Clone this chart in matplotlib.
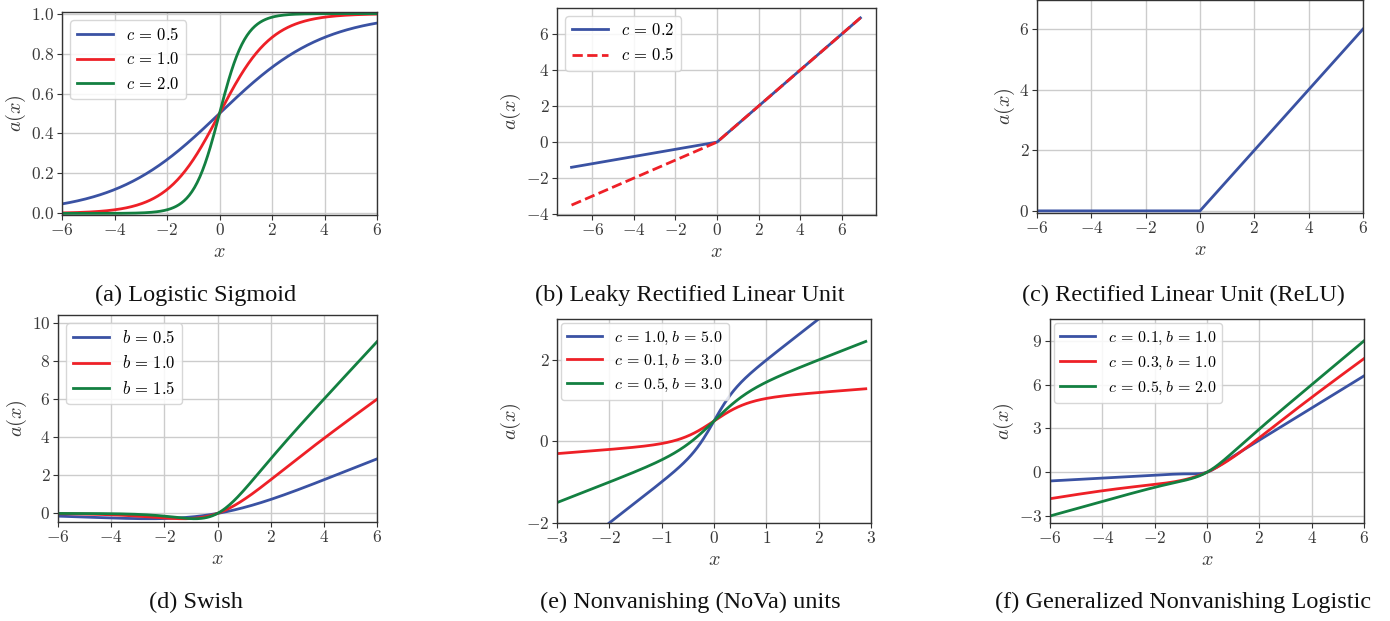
import numpy as np
import matplotlib
matplotlib.use("Agg")
import matplotlib.pyplot as plt
from matplotlib.ticker import FuncFormatter, MultipleLocator

# ---------------- data / parameters ----------------
sig_c = [0.5, 1.0, 2.0]                 # (a) logistic sigmoid slopes
leaky_c = [0.2, 0.5]                    # (b) leaky ReLU slopes
swish_b = [0.5, 1.0, 1.5]               # (d) swish
nova_c = [1.0, 0.1, 0.5]                # (e) NoVa
nova_b = [5.0, 3.0, 3.0]
gnl_c = [0.1, 0.3, 0.5]                 # (f) generalized nonvanishing logistic
gnl_b = [1.0, 1.0, 2.0]                 # as given in the legend
gnl_b_drawn = [4.0, 1.0, 2.0]           # steepness

captions = ["(a) Logistic Sigmoid", "(b) Leaky Rectified Linear Unit",
            "(c) Rectified Linear Unit (ReLU)", "(d) Swish",
            "(e) Nonvanishing (NoVa) units",
            "(f) Generalized Nonvanishing Logistic"]

colors = ["#3a52a3", "#ee2027", "#138041"]


def sigmoid(z):
    return 1.0 / (1.0 + np.exp(-z))


x6 = np.arange(-6, 6.001, 0.05)
x7 = np.arange(-7, 6.901, 0.1)
x3 = np.arange(-3, 2.901, 0.02)

# ---------------- style ----------------
plt.rcParams.update({
    "mathtext.fontset": "cm",
    "font.family": ["Liberation Serif", "DejaVu Serif"],
    "axes.edgecolor": "#333333",
    "axes.linewidth": 1.0,
    "xtick.color": "#333333",
    "ytick.color": "#333333",
    "xtick.labelcolor": "#3a3a3a",
    "ytick.labelcolor": "#3a3a3a",
    "xtick.major.size": 3.5,
    "ytick.major.size": 3.5,
    "grid.color": "#cccccc",
    "grid.linewidth": 1.0,
    "legend.edgecolor": "#d0d0d0",
})

W, H = 1390, 621
fig = plt.figure(figsize=(W / 100, H / 100), dpi=100)


def add_ax(x0, x1, y0, y1):
    return fig.add_axes([x0 / W, 1 - y1 / H, (x1 - x0) / W, (y1 - y0) / H])


def fmt1(v, p):
    return r"$%.1f$" % v


def fmt0(v, p):
    return r"$%d$" % round(v)


def style(ax, xstep, ystep, yfmt=fmt0):
    ax.xaxis.set_major_locator(MultipleLocator(xstep))
    ax.yaxis.set_major_locator(MultipleLocator(ystep))
    ax.xaxis.set_major_formatter(FuncFormatter(fmt0))
    ax.yaxis.set_major_formatter(FuncFormatter(yfmt))
    ax.tick_params(labelsize=12.5, pad=2)
    ax.grid(True)
    ax.set_axisbelow(True)
    ax.set_xlabel(r"$x$", fontsize=14.5, labelpad=3, color="#3a3a3a")
    ax.set_ylabel(r"$a(x)$", fontsize=14.5, labelpad=2, color="#3a3a3a")


def leg(ax, fs=12, sp=0.5, **kw):
    ax.legend(loc="upper left", fontsize=fs, handlelength=2.15,
              labelspacing=sp, fancybox=True, framealpha=0.85, **kw)


LW = 2.0
EQ = r"\,=\,"

# (a)
ax = add_ax(62, 377, 12, 215)
for c, col in zip(sig_c, colors):
    ax.plot(x6, sigmoid(c * x6), color=col, lw=LW,
            label=r"$c%s%.1f$" % (EQ, c))
ax.set_xlim(-6, 6)
ax.set_ylim(-0.008, 1.008)
style(ax, 2, 0.2, fmt1)
leg(ax)

# (b)
ax = add_ax(557, 876, 8, 215)
styles = ["-", "--"]
for c, col, ls in zip(leaky_c, colors, styles):
    ax.plot(x7, np.where(x7 > 0, x7, c * x7), color=col, lw=LW, ls=ls,
            label=r"$c%s%.1f$" % (EQ, c))
ax.set_xlim(-7.7, 7.65)
ax.set_ylim(-4.05, 7.45)
style(ax, 2, 2)
leg(ax)

# (c)
ax = add_ax(1037, 1363, 0, 213)
ax.plot(x6, np.maximum(x6, 0), color=colors[0], lw=LW)
ax.set_xlim(-6, 6)
ax.set_ylim(-0.07, 6.96)
style(ax, 2, 2)

# (d)
ax = add_ax(58, 377, 315, 522)
for b, col in zip(swish_b, colors):
    ax.plot(x6, b * x6 * sigmoid(b * x6), color=col, lw=LW,
            label=r"$b%s%.1f$" % (EQ, b))
ax.set_xlim(-6, 6)
ax.set_ylim(-0.45, 10.4)
style(ax, 2, 2)
leg(ax)

# (e)
ax = add_ax(557, 871, 319, 523)
for c, b, col in zip(nova_c, nova_b, colors):
    ax.plot(x3, c * x3 + sigmoid(b * x3), color=col, lw=LW,
            label=r"$c%s%.1f, b%s%.1f$" % (EQ, c, EQ, b))
ax.set_xlim(-3, 3)
ax.set_ylim(-2, 3)
style(ax, 1, 2)
leg(ax, fs=11.5, sp=0.4, borderaxespad=0.25)

# (f)
ax = add_ax(1050, 1364, 319, 523)
for c, b, bd, col in zip(gnl_c, gnl_b, gnl_b_drawn, colors):
    ax.plot(x6, c * x6 + x6 * sigmoid(bd * x6), color=col, lw=LW,
            label=r"$c%s%.1f, b%s%.1f$" % (EQ, c, EQ, b))
ax.set_xlim(-6, 6)
ax.set_ylim(-3.48, 10.5)
style(ax, 2, 3)
leg(ax, fs=11.5, sp=0.5, borderaxespad=0.25)

# captions
cap_pos = [(196, 295), (690, 295), (1183, 295),
           (196, 602), (690, 602), (1183, 602)]
for (cx, cy), t in zip(cap_pos, captions):
    fig.text(cx / W, 1 - cy / H, t, ha="center", va="center", fontsize=17.5,
             color="#111111")

fig.savefig("out.png", dpi=100)
